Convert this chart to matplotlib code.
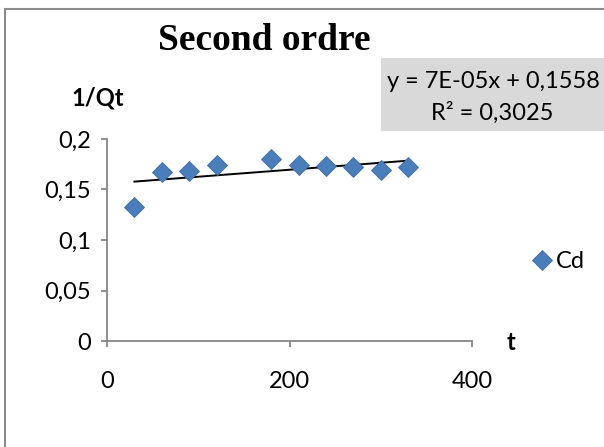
import numpy as np
import matplotlib
matplotlib.use("Agg")
import matplotlib.pyplot as plt
from matplotlib.patches import Rectangle
from matplotlib.ticker import FuncFormatter, MultipleLocator

# donnees
t = [30, 60, 90, 120, 180, 210, 240, 270, 300, 330]
inv_qt = [0.133, 0.167, 0.168, 0.174, 0.180, 0.174, 0.173, 0.1726, 0.1696, 0.1726]
serie = "Cd"
titre = "Second ordre"
eq_txt = "y = 7E-05x + 0,1558"
r2_txt = "R² = 0,3025"

W, H = 604, 447
plt.rcParams["font.family"] = ["Lato", "DejaVu Sans"]

fig = plt.figure(figsize=(W / 100, H / 100), dpi=100)

def fx(px):
    return px / W

def fy(py):
    return 1 - py / H

# cadre exterieur (coupe a droite et en bas)
fig.patches.append(Rectangle((fx(5), fy(470)), fx(640), (470 - 9) / H,
                             transform=fig.transFigure, fill=False,
                             edgecolor="#8c8c8c", linewidth=1.5))

ax = fig.add_axes([fx(107), fy(341), fx(472) - fx(107), fy(139) - fy(341)])

ax.plot(t, inv_qt, linestyle="none", marker="D", markersize=10.5,
        color="#4a7ebb", markeredgecolor="#3d6ca3", markeredgewidth=0.6,
        label=serie, zorder=3)

# courbe de tendance lineaire
a, b = np.polyfit(t, inv_qt, 1)
xt = np.array([min(t), max(t)])
ax.plot(xt, a * xt + b, color="black", linewidth=1.4, zorder=2)

ax.set_xlim(0, 400)
ax.set_ylim(0, 0.2)
ax.xaxis.set_major_locator(MultipleLocator(200))
ax.yaxis.set_major_locator(MultipleLocator(0.05))
ax.yaxis.set_major_formatter(FuncFormatter(lambda v, p: ("%g" % round(v, 3)).replace(".", ",")))

for s in ["top", "right"]:
    ax.spines[s].set_visible(False)
for s in ["left", "bottom"]:
    ax.spines[s].set_color("#868686")
    ax.spines[s].set_linewidth(1.3)
ax.tick_params(axis="both", direction="out", length=4.5, width=1.3, color="#868686",
               labelsize=17, labelcolor="black")
ax.tick_params(axis="y", pad=7)
ax.tick_params(axis="x", pad=17)

fig.text(fx(264), fy(41), titre, ha="center", va="center", fontsize=27,
         fontweight="bold", family="Liberation Serif")
fig.text(fx(98), fy(98), "1/Qt", ha="center", va="center", fontsize=17, fontweight="bold")
fig.text(fx(511), fy(342), "t", ha="center", va="center", fontsize=17, fontweight="bold")

# etiquette de la tendance
fig.patches.append(Rectangle((fx(381), fy(131)), fx(240), (131 - 58) / H,
                             transform=fig.transFigure, facecolor="#d9d9d9",
                             edgecolor="none"))
fig.text(fx(493), fy(81), eq_txt, ha="center", va="center", fontsize=17)
fig.text(fx(492), fy(113), r2_txt, ha="center", va="center", fontsize=17)

fig.legend(loc="center left", bbox_to_anchor=(fx(524), fy(262)), frameon=False,
           fontsize=17, handlelength=0.7, handletextpad=0.25, borderaxespad=0)

fig.savefig("out.png", dpi=100)
